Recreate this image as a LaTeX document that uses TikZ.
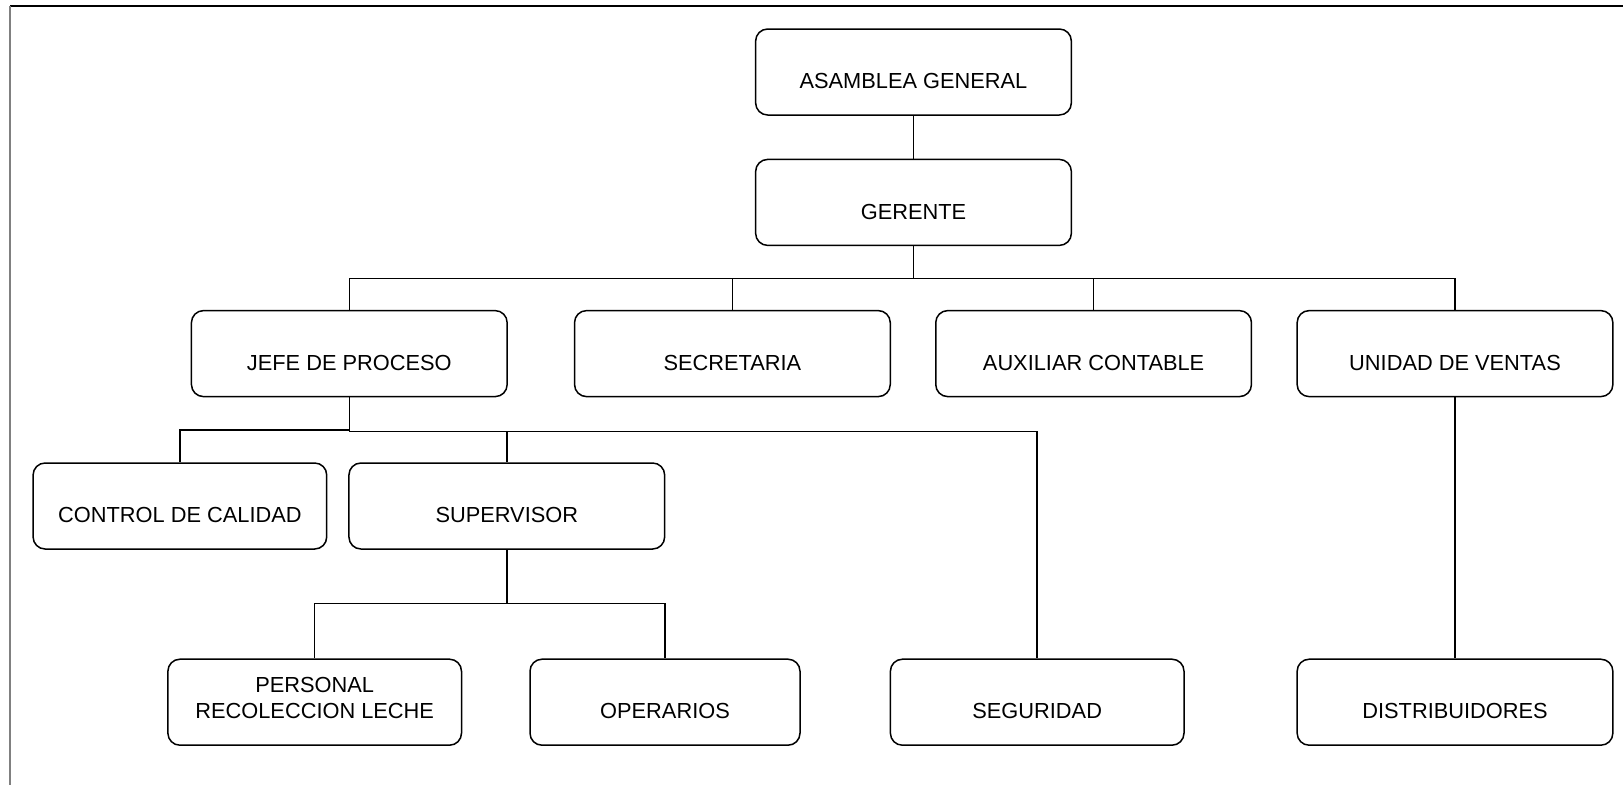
\documentclass[tikz,border=0pt]{standalone}
\usepackage{fontspec}
\setmainfont{Liberation Sans}
\begin{document}
\begin{tikzpicture}[x=1pt,y=-1pt,
  box/.style={draw,line width=1.5pt,rounded corners=12pt,minimum height=86pt,inner sep=0pt},
  wide/.style={box,minimum width=315.7pt},
  mid/.style={box,minimum width=293.6pt},
  narrow/.style={box,minimum width=270pt},
  txt/.style={anchor=base,yshift=27pt,font=\fontsize{21.8}{26.6}\selectfont,align=center},
  conn/.style={line width=1.5pt}]
\useasboundingbox (0,0) rectangle (1623,785);
\draw[line width=2pt] (10,6) -- (1623,6);
\draw[line width=2pt,gray] (10,6) -- (10,785);
% boxes
\node[wide,label={[txt]south:ASAMBLEA GENERAL}] (asam) at (913.5,72) {};
\node[wide,label={[txt]south:GERENTE}] (ger) at (913.5,202.4) {};
\node[wide,label={[txt]south:JEFE DE PROCESO}] (jefe) at (349.3,353.6) {};
\node[wide,label={[txt]south:SECRETARIA}] (sec) at (732.4,353.6) {};
\node[wide,label={[txt]south:AUXILIAR CONTABLE}] (aux) at (1093.6,353.6) {};
\node[wide,label={[txt]south:UNIDAD DE VENTAS}] (uni) at (1455,353.6) {};
\node[mid,label={[txt]south:CONTROL DE CALIDAD}] (ctrl) at (179.9,506) {};
\node[wide,label={[txt]south:SUPERVISOR}] (sup) at (506.8,506) {};
\node[mid,label={[txt]south:{PERSONAL\\RECOLECCION LECHE}}] (pers) at (314.7,702.2) {};
\node[narrow,label={[txt]south:OPERARIOS}] (oper) at (665,702.2) {};
\node[mid,label={[txt]south:SEGURIDAD}] (seg) at (1037.2,702.2) {};
\node[wide,label={[txt]south:DISTRIBUIDORES}] (dist) at (1455,702.2) {};
% bus coordinates
\coordinate (gb) at (913.5,278.3);
\coordinate (jb1) at (349.3,430);
\coordinate (jb2) at (349.3,431.7);
\coordinate (sb) at (506.8,603.5);
% connectors
\draw[conn] (asam) -- (ger);
\draw[conn] (ger) -- (gb);
\draw[conn] (gb) -| (jefe.north);
\draw[conn] (gb) -| (sec.north);
\draw[conn] (gb) -| (aux.north);
\draw[conn] (gb) -| (uni.north);
\draw[conn] (jefe.south) -- (jb2);
\draw[conn] (jb1) -| (ctrl.north);
\draw[conn] (jb2) -| (sup.north);
\draw[conn] (jb2) -| (seg.north);
\draw[conn] (sup.south) -- (sb);
\draw[conn] (sb) -| (pers.north);
\draw[conn] (sb) -| (oper.north);
\draw[conn] (uni.south) -- (dist.north);
\end{tikzpicture}
\end{document}
